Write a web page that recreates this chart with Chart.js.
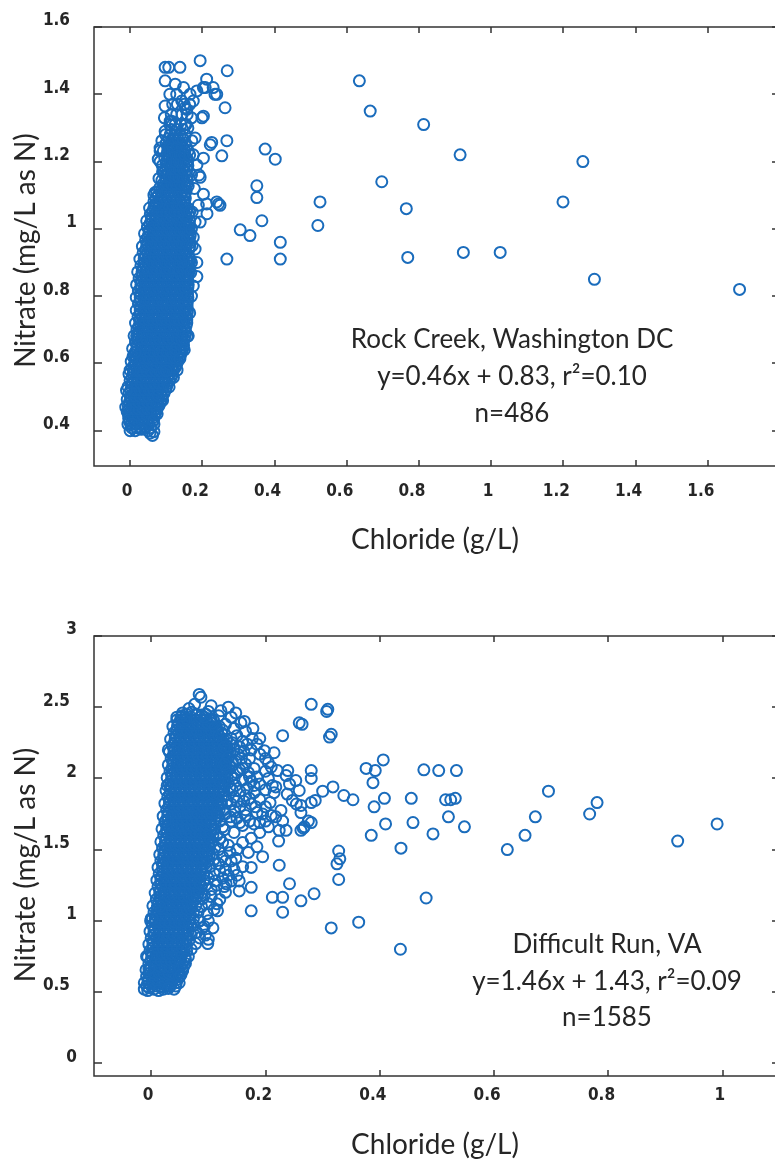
<!DOCTYPE html>
<html>
<head>
<meta charset="utf-8">
<title>Nitrate vs chloride</title>
<script src="https://cdn.jsdelivr.net/npm/chart.js@4.4.1/dist/chart.umd.min.js"></script>
<style>
  html, body { margin: 0; padding: 0; background: #fff; width: 775px; height: 1162px; overflow: hidden; }
  canvas { position: absolute; left: 0; }
  #rock { top: 0; }
  #difficult { top: 590px; }
</style>
</head>
<body>
<canvas id="rock" width="800" height="580"></canvas>
<canvas id="difficult" width="800" height="572"></canvas>
<script>
'use strict'

// ---- Rock Creek, Washington DC ----
const rockXTicks = [0, 0.2, 0.4, 0.6, 0.8, 1, 1.2, 1.4, 1.6]
const rockXLabels = ['0', '0.2', '0.4', '0.6', '0.8', '1', '1.2', '1.4', '1.6']
const rockYTicks = [0.4, 0.6, 0.8, 1, 1.2, 1.4, 1.6]
const rockYLabels = ['0.4', '0.6', '0.8', '1', '1.2', '1.4', '1.6']
const rockNote = ['Rock Creek, Washington DC', 'y=0.46x + 0.83, r\u00b2=0.10', 'n=486']

// dense band: [nitrate, [chloride, ...]]
const rockCore = [
  [0.400, [0.000, 0.014, 0.050]],
  [0.419, [-0.006, 0.002, 0.014, 0.027, 0.039, 0.052, 0.066]],
  [0.437, [-0.004, 0.010, 0.022, 0.035, 0.049, 0.061]],
  [0.456, [-0.008, 0.000, 0.012, 0.025, 0.037, 0.050, 0.063, 0.072]],
  [0.474, [-0.005, 0.007, 0.020, 0.033, 0.045, 0.058, 0.070, 0.080]],
  [0.493, [-0.008, 0.002, 0.014, 0.027, 0.039, 0.052, 0.064, 0.077, 0.087]],
  [0.511, [-0.003, 0.009, 0.021, 0.034, 0.046, 0.059, 0.071, 0.084, 0.094]],
  [0.530, [-0.006, 0.004, 0.017, 0.028, 0.041, 0.053, 0.066, 0.078, 0.091, 0.101]],
  [0.549, [0.000, 0.012, 0.024, 0.037, 0.049, 0.061, 0.074, 0.086, 0.098, 0.109]],
  [0.568, [-0.003, 0.009, 0.021, 0.033, 0.045, 0.058, 0.070, 0.082, 0.095, 0.107, 0.117]],
  [0.587, [0.006, 0.018, 0.030, 0.042, 0.054, 0.067, 0.079, 0.091, 0.103, 0.115, 0.125]],
  [0.606, [0.003, 0.015, 0.027, 0.039, 0.051, 0.063, 0.075, 0.087, 0.099, 0.112, 0.123, 0.132]],
  [0.625, [0.011, 0.023, 0.035, 0.047, 0.059, 0.072, 0.083, 0.095, 0.107, 0.119, 0.131, 0.140]],
  [0.644, [0.007, 0.019, 0.031, 0.043, 0.055, 0.068, 0.079, 0.091, 0.104, 0.115, 0.127, 0.139, 0.146]],
  [0.663, [0.015, 0.027, 0.040, 0.051, 0.063, 0.075, 0.088, 0.099, 0.111, 0.124, 0.135, 0.147]],
  [0.682, [0.011, 0.023, 0.035, 0.047, 0.060, 0.071, 0.083, 0.095, 0.108, 0.119, 0.131, 0.143, 0.152]],
  [0.701, [0.019, 0.031, 0.043, 0.055, 0.068, 0.079, 0.091, 0.103, 0.116, 0.127, 0.139, 0.152]],
  [0.720, [0.015, 0.027, 0.039, 0.051, 0.063, 0.075, 0.087, 0.100, 0.111, 0.123, 0.135, 0.148, 0.157]],
  [0.739, [0.022, 0.034, 0.046, 0.059, 0.070, 0.082, 0.095, 0.106, 0.118, 0.131, 0.142, 0.156]],
  [0.758, [0.017, 0.028, 0.040, 0.052, 0.064, 0.076, 0.088, 0.100, 0.112, 0.124, 0.136, 0.149, 0.159]],
  [0.777, [0.023, 0.035, 0.048, 0.059, 0.071, 0.084, 0.095, 0.107, 0.120, 0.131, 0.144, 0.158]],
  [0.796, [0.017, 0.028, 0.040, 0.052, 0.064, 0.076, 0.088, 0.100, 0.112, 0.125, 0.137, 0.150, 0.160]],
  [0.815, [0.023, 0.036, 0.047, 0.059, 0.072, 0.083, 0.095, 0.108, 0.119, 0.131, 0.144, 0.157]],
  [0.834, [0.018, 0.030, 0.042, 0.054, 0.066, 0.078, 0.090, 0.102, 0.114, 0.126, 0.139, 0.151, 0.161]],
  [0.853, [0.025, 0.037, 0.049, 0.062, 0.073, 0.085, 0.098, 0.109, 0.121, 0.134, 0.146, 0.158]],
  [0.872, [0.021, 0.033, 0.045, 0.057, 0.069, 0.081, 0.093, 0.105, 0.117, 0.129, 0.142, 0.154, 0.163]],
  [0.891, [0.030, 0.042, 0.054, 0.067, 0.078, 0.090, 0.103, 0.114, 0.126, 0.139, 0.150, 0.162]],
  [0.910, [0.027, 0.039, 0.051, 0.063, 0.075, 0.087, 0.099, 0.111, 0.123, 0.135, 0.147, 0.159, 0.166]],
  [0.929, [0.036, 0.048, 0.060, 0.073, 0.084, 0.096, 0.109, 0.120, 0.132, 0.145, 0.156]],
  [0.948, [0.034, 0.046, 0.058, 0.070, 0.082, 0.094, 0.106, 0.118, 0.130, 0.142, 0.154, 0.165]],
  [0.967, [0.043, 0.055, 0.067, 0.080, 0.091, 0.103, 0.116, 0.127, 0.139, 0.152, 0.163]],
  [0.986, [0.040, 0.052, 0.064, 0.076, 0.088, 0.100, 0.112, 0.124, 0.136, 0.148, 0.160, 0.167]],
  [1.005, [0.048, 0.061, 0.072, 0.084, 0.097, 0.108, 0.120, 0.133, 0.144, 0.156, 0.164]],
  [1.024, [0.046, 0.058, 0.070, 0.082, 0.094, 0.106, 0.118, 0.130, 0.142, 0.154, 0.164]],
  [1.043, [0.056, 0.068, 0.080, 0.093, 0.104, 0.116, 0.129, 0.140, 0.152, 0.161]],
  [1.062, [0.054, 0.066, 0.078, 0.090, 0.102, 0.114, 0.126, 0.138, 0.150, 0.159]],
  [1.081, [0.066, 0.078, 0.091, 0.102, 0.114, 0.127, 0.138, 0.150]],
  [1.100, [0.066, 0.078, 0.091, 0.103, 0.115, 0.127, 0.139, 0.151]],
  [1.122, [0.082, 0.094, 0.106, 0.118, 0.130, 0.142, 0.154]],
  [1.144, [0.088, 0.099, 0.111, 0.123, 0.135, 0.147, 0.158]],
  [1.166, [0.094, 0.107, 0.118, 0.131, 0.142, 0.155]],
  [1.188, [0.089, 0.101, 0.113, 0.125, 0.137, 0.149, 0.160]],
  [1.210, [0.096, 0.108, 0.121, 0.132, 0.145, 0.157]],
  [1.232, [0.092, 0.104, 0.116, 0.128, 0.140, 0.152, 0.161]],
  [1.255, [0.100, 0.113, 0.127, 0.139, 0.152]],
  [1.280, [0.098, 0.111, 0.125, 0.139, 0.153]],
  [1.310, [0.110, 0.125, 0.141, 0.155]],
  [1.340, [0.114, 0.129, 0.144, 0.158]],
  [1.370, [0.131, 0.150, 0.165]],
  // in-between levels
  [0.409, [0.004, 0.017, 0.030, 0.043, 0.057]],
  [0.428, [-0.002, 0.011, 0.024, 0.037, 0.050, 0.062]],
  [0.447, [-0.004, 0.009, 0.021, 0.034, 0.046, 0.059, 0.068]],
  [0.465, [-0.003, 0.010, 0.023, 0.036, 0.048, 0.061, 0.074]],
  [0.484, [-0.002, 0.011, 0.024, 0.036, 0.049, 0.061, 0.074, 0.084]],
  [0.502, [0.001, 0.014, 0.026, 0.039, 0.051, 0.064, 0.076, 0.088]],
  [0.521, [0.002, 0.015, 0.027, 0.040, 0.052, 0.065, 0.077, 0.089, 0.098]],
  [0.540, [0.005, 0.018, 0.030, 0.043, 0.055, 0.067, 0.080, 0.092, 0.104]],
  [0.559, [0.006, 0.018, 0.031, 0.043, 0.055, 0.067, 0.080, 0.092, 0.104, 0.114]],
  [0.578, [0.009, 0.021, 0.033, 0.046, 0.058, 0.070, 0.082, 0.094, 0.107, 0.119]],
  [0.597, [0.012, 0.024, 0.036, 0.048, 0.060, 0.072, 0.085, 0.097, 0.109, 0.121, 0.129]],
  [0.616, [0.015, 0.027, 0.039, 0.051, 0.063, 0.075, 0.087, 0.099, 0.111, 0.123, 0.135]],
  [0.635, [0.017, 0.029, 0.041, 0.053, 0.065, 0.077, 0.089, 0.101, 0.113, 0.125, 0.137, 0.143]],
  [0.654, [0.019, 0.031, 0.043, 0.055, 0.067, 0.079, 0.091, 0.104, 0.116, 0.128, 0.140, 0.148]],
  [0.673, [0.021, 0.033, 0.045, 0.057, 0.069, 0.081, 0.093, 0.106, 0.118, 0.130, 0.142, 0.150]],
  [0.692, [0.023, 0.035, 0.047, 0.059, 0.071, 0.083, 0.095, 0.107, 0.119, 0.131, 0.143, 0.154]],
  [0.711, [0.025, 0.037, 0.049, 0.061, 0.073, 0.085, 0.097, 0.109, 0.121, 0.133, 0.145, 0.155]],
  [0.730, [0.027, 0.039, 0.051, 0.063, 0.075, 0.087, 0.099, 0.111, 0.123, 0.135, 0.148, 0.157]],
  [0.749, [0.028, 0.040, 0.052, 0.064, 0.076, 0.088, 0.100, 0.112, 0.124, 0.136, 0.149, 0.158]],
  [0.768, [0.029, 0.041, 0.053, 0.065, 0.077, 0.089, 0.101, 0.113, 0.125, 0.137, 0.150, 0.158]],
  [0.787, [0.028, 0.040, 0.052, 0.065, 0.077, 0.089, 0.101, 0.113, 0.125, 0.137, 0.150, 0.159]],
  [0.806, [0.029, 0.041, 0.053, 0.065, 0.077, 0.089, 0.101, 0.113, 0.125, 0.138, 0.150, 0.159]],
  [0.825, [0.030, 0.042, 0.054, 0.066, 0.078, 0.090, 0.102, 0.114, 0.126, 0.138, 0.151, 0.160]],
  [0.844, [0.031, 0.043, 0.055, 0.067, 0.079, 0.091, 0.103, 0.115, 0.127, 0.139, 0.152, 0.160]],
  [0.863, [0.033, 0.045, 0.057, 0.069, 0.081, 0.093, 0.105, 0.117, 0.129, 0.141, 0.153, 0.161]],
  [0.882, [0.036, 0.048, 0.060, 0.072, 0.084, 0.096, 0.108, 0.120, 0.132, 0.144, 0.156, 0.163]],
  [0.901, [0.039, 0.051, 0.063, 0.075, 0.087, 0.099, 0.111, 0.123, 0.135, 0.147, 0.159, 0.165]],
  [0.920, [0.042, 0.054, 0.066, 0.078, 0.090, 0.102, 0.114, 0.126, 0.138, 0.150, 0.162]],
  [0.939, [0.044, 0.056, 0.068, 0.080, 0.092, 0.104, 0.116, 0.128, 0.140, 0.152, 0.163]],
  [0.958, [0.047, 0.059, 0.071, 0.083, 0.095, 0.107, 0.119, 0.131, 0.143, 0.155, 0.165]],
  [0.977, [0.050, 0.062, 0.074, 0.086, 0.098, 0.110, 0.122, 0.134, 0.146, 0.158, 0.166]],
  [0.996, [0.053, 0.065, 0.077, 0.089, 0.101, 0.113, 0.125, 0.137, 0.149, 0.160]],
  [1.015, [0.055, 0.067, 0.079, 0.091, 0.103, 0.115, 0.127, 0.139, 0.151, 0.162]],
  [1.034, [0.059, 0.071, 0.083, 0.095, 0.107, 0.119, 0.131, 0.143, 0.155]],
  [1.053, [0.063, 0.075, 0.087, 0.099, 0.111, 0.123, 0.135, 0.147, 0.157]],
  [1.072, [0.069, 0.081, 0.093, 0.105, 0.117, 0.129, 0.141, 0.152]],
  [1.091, [0.072, 0.084, 0.096, 0.108, 0.120, 0.132, 0.144, 0.153]],
  [1.111, [0.085, 0.097, 0.109, 0.121, 0.133, 0.145, 0.155]],
  [1.133, [0.091, 0.103, 0.115, 0.127, 0.139, 0.151, 0.158]],
  [1.155, [0.098, 0.110, 0.122, 0.134, 0.146, 0.158]],
  [1.177, [0.099, 0.111, 0.123, 0.135, 0.147, 0.158]],
  [1.199, [0.100, 0.112, 0.124, 0.136, 0.148, 0.159]],
  [1.221, [0.102, 0.114, 0.126, 0.138, 0.150]],
  [1.244, [0.104, 0.117, 0.130, 0.143, 0.156]],
  [1.268, [0.106, 0.119, 0.132, 0.146]],
  [1.295, [0.115, 0.130, 0.146]]
]

// scattered samples round the band and the high-chloride tail: [chloride, nitrate]
const rockSpread = [
  [0.097, 1.48], [0.107, 1.48], [0.138, 1.48], [0.194, 1.50], [0.269, 1.47], [0.097, 1.44],
  [0.212, 1.445], [0.230, 1.42], [0.203, 1.42], [0.240, 1.40], [0.129, 1.40], [0.166, 1.40],
  [0.185, 1.41], [0.208, 1.42], [0.235, 1.40], [0.097, 1.365], [0.263, 1.36], [0.203, 1.335],
  [0.152, 1.36], [0.111, 1.32], [0.097, 1.29], [0.083, 1.24], [0.083, 1.20], [0.226, 1.257],
  [0.222, 1.25], [0.268, 1.262], [0.254, 1.217], [0.203, 1.21], [0.175, 1.22], [0.191, 1.16],
  [0.074, 1.11], [0.203, 1.103], [0.240, 1.08], [0.249, 1.07], [0.189, 1.07], [0.213, 1.045],
  [0.194, 1.02], [0.175, 0.975], [0.212, 1.074], [0.245, 1.074], [0.194, 1.153], [0.161, 1.128],
  [0.171, 1.262], [0.152, 1.31], [0.157, 1.355], [0.143, 1.38], [0.115, 1.32], [0.199, 1.33],
  [0.083, 1.232], [0.078, 1.207], [0.088, 1.262], [0.069, 1.108], [0.074, 1.074],
  [0.160, 1.30], [0.170, 1.33], [0.148, 1.42], [0.125, 1.43], [0.110, 1.40], [0.118, 1.37],
  [0.175, 1.38], [0.170, 1.16], [0.178, 1.12], [0.185, 1.19], [0.165, 1.22], [0.180, 1.27],
  [0.095, 1.33], [0.090, 1.17], [0.080, 1.15], [0.172, 1.05], [0.180, 1.02], [0.170, 0.90],
  [0.175, 0.83], [0.158, 0.68], [0.150, 0.64], [0.130, 0.58], [0.108, 0.53], [0.090, 0.49],
  [0.075, 0.45], [0.065, 0.43], [-0.012, 0.47], [-0.010, 0.52], [0.000, 0.58], [0.008, 0.62],
  [0.018, 0.682], [0.014, 0.633], [0.125, 0.643], [0.120, 0.558], [0.078, 0.504], [0.005, 0.42],
  [0.055, 0.393], [0.062, 0.386], [0.031, 0.404], [0.066, 0.397],
  [0.161, 0.682], [0.138, 0.614], [0.100, 0.578], [0.170, 0.80],
  [0.168, 0.87], [0.172, 0.95], [0.170, 1.00], [0.165, 1.05], [0.165, 0.75],
  [0.185, 0.858], [0.185, 0.90], [0.180, 0.94], [0.268, 0.91],
  [0.374, 1.237], [0.402, 1.207], [0.351, 1.128], [0.351, 1.093], [0.365, 1.024],
  [0.305, 0.997], [0.332, 0.98], [0.416, 0.96], [0.416, 0.91], [0.526, 1.08], [0.520, 1.01],
  [0.635, 1.44], [0.665, 1.35], [0.697, 1.14], [0.813, 1.31], [0.914, 1.22], [0.765, 1.06],
  [0.769, 0.915], [0.923, 0.93], [1.025, 0.93], [1.199, 1.08], [1.254, 1.20], [1.286, 0.85],
  [1.688, 0.82]
]

// ---- Difficult Run, VA ----
const runXTicks = [0, 0.2, 0.4, 0.6, 0.8, 1]
const runXLabels = ['0', '0.2', '0.4', '0.6', '0.8', '1']
const runYTicks = [0, 0.5, 1, 1.5, 2, 2.5, 3]
const runYLabels = ['0', '0.5', '1', '1.5', '2', '2.5', '3']
const runNote = ['Difficult Run, VA', 'y=1.46x + 1.43, r\u00b2=0.09', 'n=1585']

const runCore = [
  [0.520, [-0.012, 0.005, 0.021, 0.040]],
  [0.565, [-0.012, -0.006, 0.002, 0.011, 0.019, 0.028, 0.036, 0.044, 0.049]],
  [0.610, [-0.008, 0.000, 0.009, 0.017, 0.026, 0.034, 0.042, 0.049]],
  [0.655, [-0.009, -0.002, 0.006, 0.015, 0.023, 0.032, 0.040, 0.048, 0.055]],
  [0.700, [-0.004, 0.004, 0.013, 0.021, 0.030, 0.038, 0.046, 0.054]],
  [0.745, [-0.006, 0.001, 0.010, 0.018, 0.027, 0.035, 0.044, 0.052, 0.059]],
  [0.790, [-0.002, 0.007, 0.015, 0.024, 0.032, 0.041, 0.050, 0.058]],
  [0.835, [-0.004, 0.003, 0.012, 0.020, 0.029, 0.037, 0.046, 0.055, 0.062]],
  [0.880, [0.000, 0.009, 0.017, 0.026, 0.034, 0.043, 0.052, 0.062]],
  [0.925, [-0.002, 0.005, 0.014, 0.022, 0.031, 0.039, 0.048, 0.057, 0.065]],
  [0.970, [0.002, 0.011, 0.019, 0.028, 0.036, 0.045, 0.054, 0.062, 0.070]],
  [1.015, [0.000, 0.007, 0.016, 0.024, 0.033, 0.041, 0.050, 0.059, 0.067, 0.074]],
  [1.060, [0.005, 0.013, 0.022, 0.030, 0.039, 0.047, 0.056, 0.064, 0.074]],
  [1.105, [0.003, 0.011, 0.019, 0.028, 0.036, 0.045, 0.053, 0.062, 0.070, 0.078]],
  [1.150, [0.009, 0.017, 0.026, 0.034, 0.043, 0.051, 0.060, 0.068, 0.078]],
  [1.195, [0.007, 0.015, 0.023, 0.032, 0.040, 0.049, 0.057, 0.066, 0.074, 0.083, 0.088]],
  [1.240, [0.012, 0.020, 0.029, 0.037, 0.046, 0.054, 0.063, 0.071, 0.080, 0.088]],
  [1.285, [0.010, 0.017, 0.025, 0.034, 0.042, 0.051, 0.059, 0.068, 0.076, 0.085, 0.092]],
  [1.330, [0.014, 0.022, 0.031, 0.039, 0.048, 0.056, 0.065, 0.073, 0.082, 0.092]],
  [1.375, [0.012, 0.020, 0.028, 0.037, 0.045, 0.054, 0.062, 0.071, 0.079, 0.088, 0.096]],
  [1.420, [0.017, 0.025, 0.034, 0.042, 0.051, 0.059, 0.068, 0.076, 0.085, 0.093, 0.099]],
  [1.465, [0.015, 0.022, 0.031, 0.039, 0.048, 0.056, 0.065, 0.073, 0.082, 0.090, 0.098, 0.102]],
  [1.510, [0.020, 0.028, 0.037, 0.045, 0.054, 0.062, 0.071, 0.079, 0.088, 0.096, 0.102]],
  [1.555, [0.017, 0.025, 0.034, 0.042, 0.051, 0.059, 0.068, 0.076, 0.085, 0.093, 0.102, 0.107]],
  [1.600, [0.022, 0.031, 0.039, 0.048, 0.056, 0.065, 0.073, 0.082, 0.090, 0.099, 0.108]],
  [1.645, [0.019, 0.027, 0.036, 0.044, 0.053, 0.061, 0.070, 0.078, 0.087, 0.095, 0.104, 0.111]],
  [1.690, [0.024, 0.033, 0.041, 0.050, 0.058, 0.067, 0.075, 0.084, 0.092, 0.101, 0.112]],
  [1.735, [0.021, 0.029, 0.038, 0.046, 0.055, 0.063, 0.072, 0.080, 0.089, 0.097, 0.106, 0.114, 0.118]],
  [1.780, [0.027, 0.035, 0.044, 0.052, 0.061, 0.069, 0.078, 0.086, 0.095, 0.103, 0.112, 0.119]],
  [1.825, [0.024, 0.032, 0.040, 0.049, 0.057, 0.066, 0.074, 0.083, 0.091, 0.100, 0.108, 0.117, 0.123]],
  [1.870, [0.029, 0.037, 0.046, 0.054, 0.063, 0.071, 0.080, 0.088, 0.097, 0.105, 0.114, 0.123]],
  [1.915, [0.026, 0.034, 0.042, 0.051, 0.059, 0.068, 0.076, 0.085, 0.093, 0.102, 0.110, 0.119, 0.127]],
  [1.960, [0.031, 0.039, 0.048, 0.056, 0.065, 0.073, 0.082, 0.090, 0.099, 0.107, 0.116, 0.124, 0.129]],
  [2.005, [0.028, 0.036, 0.044, 0.053, 0.061, 0.070, 0.078, 0.087, 0.095, 0.104, 0.112, 0.121, 0.129, 0.133]],
  [2.050, [0.033, 0.041, 0.050, 0.058, 0.067, 0.075, 0.084, 0.092, 0.101, 0.109, 0.118, 0.126, 0.132]],
  [2.095, [0.030, 0.038, 0.046, 0.055, 0.063, 0.072, 0.080, 0.089, 0.097, 0.106, 0.114, 0.123, 0.131, 0.136]],
  [2.140, [0.035, 0.043, 0.052, 0.060, 0.069, 0.077, 0.086, 0.094, 0.103, 0.111, 0.120, 0.128, 0.135]],
  [2.185, [0.032, 0.040, 0.048, 0.057, 0.065, 0.074, 0.082, 0.091, 0.099, 0.108, 0.116, 0.125, 0.133, 0.138]],
  [2.230, [0.037, 0.045, 0.054, 0.062, 0.071, 0.079, 0.088, 0.096, 0.105, 0.113, 0.122, 0.132]],
  [2.275, [0.034, 0.042, 0.050, 0.059, 0.067, 0.076, 0.084, 0.093, 0.101, 0.110, 0.118, 0.126, 0.131]],
  [2.320, [0.040, 0.048, 0.057, 0.065, 0.074, 0.082, 0.091, 0.099, 0.108, 0.116, 0.123]],
  [2.365, [0.038, 0.046, 0.054, 0.063, 0.071, 0.080, 0.088, 0.097, 0.105, 0.114, 0.119]],
  [2.410, [0.045, 0.053, 0.062, 0.070, 0.079, 0.087, 0.096, 0.104, 0.109]],
  [2.450, [0.062, 0.079, 0.096]],
  // in-between levels
  [0.542, [-0.008, 0.000, 0.009, 0.017, 0.026, 0.034, 0.043]],
  [0.588, [-0.005, 0.003, 0.012, 0.020, 0.029, 0.037, 0.046]],
  [0.632, [-0.003, 0.005, 0.014, 0.022, 0.031, 0.039, 0.048]],
  [0.678, [-0.001, 0.007, 0.016, 0.024, 0.033, 0.041, 0.050]],
  [0.722, [0.000, 0.008, 0.017, 0.025, 0.034, 0.042, 0.051]],
  [0.768, [0.002, 0.010, 0.019, 0.027, 0.036, 0.044, 0.053]],
  [0.812, [0.003, 0.011, 0.020, 0.028, 0.037, 0.045, 0.054]],
  [0.858, [0.004, 0.012, 0.021, 0.029, 0.038, 0.046, 0.055]],
  [0.902, [0.005, 0.013, 0.022, 0.030, 0.039, 0.047, 0.056, 0.062]],
  [0.948, [0.006, 0.014, 0.023, 0.031, 0.040, 0.048, 0.057, 0.064]],
  [0.992, [0.007, 0.015, 0.024, 0.032, 0.041, 0.049, 0.058, 0.066]],
  [1.038, [0.009, 0.017, 0.026, 0.034, 0.043, 0.051, 0.060, 0.068]],
  [1.082, [0.011, 0.019, 0.028, 0.036, 0.045, 0.053, 0.062, 0.070]],
  [1.128, [0.013, 0.021, 0.030, 0.038, 0.047, 0.055, 0.064, 0.072]],
  [1.172, [0.015, 0.023, 0.032, 0.040, 0.049, 0.057, 0.066, 0.074, 0.080]],
  [1.218, [0.016, 0.024, 0.033, 0.041, 0.050, 0.058, 0.067, 0.075, 0.083]],
  [1.262, [0.017, 0.025, 0.034, 0.042, 0.051, 0.059, 0.068, 0.076, 0.085]],
  [1.308, [0.018, 0.026, 0.035, 0.043, 0.052, 0.060, 0.069, 0.077, 0.086]],
  [1.352, [0.020, 0.028, 0.037, 0.045, 0.054, 0.062, 0.071, 0.079, 0.088]],
  [1.398, [0.021, 0.029, 0.038, 0.046, 0.055, 0.063, 0.072, 0.080, 0.089, 0.094]],
  [1.442, [0.022, 0.030, 0.039, 0.047, 0.056, 0.064, 0.073, 0.081, 0.090, 0.097]],
  [1.488, [0.024, 0.032, 0.041, 0.049, 0.058, 0.066, 0.075, 0.083, 0.092, 0.099]],
  [1.532, [0.025, 0.033, 0.042, 0.050, 0.059, 0.067, 0.076, 0.084, 0.093, 0.101]],
  [1.578, [0.026, 0.034, 0.043, 0.051, 0.060, 0.068, 0.077, 0.085, 0.094, 0.103]],
  [1.622, [0.027, 0.035, 0.044, 0.052, 0.061, 0.069, 0.078, 0.086, 0.095, 0.104]],
  [1.668, [0.028, 0.036, 0.045, 0.053, 0.062, 0.070, 0.079, 0.087, 0.096, 0.105]],
  [1.712, [0.029, 0.037, 0.046, 0.054, 0.063, 0.071, 0.080, 0.088, 0.097, 0.105, 0.112]],
  [1.758, [0.030, 0.038, 0.047, 0.055, 0.064, 0.072, 0.081, 0.089, 0.098, 0.106, 0.115]],
  [1.802, [0.031, 0.039, 0.048, 0.056, 0.065, 0.073, 0.082, 0.090, 0.099, 0.107, 0.116]],
  [1.848, [0.032, 0.040, 0.049, 0.057, 0.066, 0.074, 0.083, 0.091, 0.100, 0.108, 0.117]],
  [1.892, [0.033, 0.041, 0.050, 0.058, 0.067, 0.075, 0.084, 0.092, 0.101, 0.109, 0.118]],
  [1.938, [0.034, 0.042, 0.051, 0.059, 0.068, 0.076, 0.085, 0.093, 0.102, 0.110, 0.119, 0.125]],
  [1.982, [0.035, 0.043, 0.052, 0.060, 0.069, 0.077, 0.086, 0.094, 0.103, 0.111, 0.120, 0.128]],
  [2.028, [0.036, 0.044, 0.053, 0.061, 0.070, 0.078, 0.087, 0.095, 0.104, 0.112, 0.121, 0.129]],
  [2.072, [0.037, 0.045, 0.054, 0.062, 0.071, 0.079, 0.088, 0.096, 0.105, 0.113, 0.122, 0.130]],
  [2.118, [0.038, 0.046, 0.055, 0.063, 0.072, 0.080, 0.089, 0.097, 0.106, 0.114, 0.123, 0.131]],
  [2.162, [0.039, 0.047, 0.056, 0.064, 0.073, 0.081, 0.090, 0.098, 0.107, 0.115, 0.124, 0.132]],
  [2.208, [0.040, 0.048, 0.057, 0.065, 0.074, 0.082, 0.091, 0.099, 0.108, 0.116, 0.125, 0.132]],
  [2.252, [0.041, 0.049, 0.058, 0.066, 0.075, 0.083, 0.092, 0.100, 0.109, 0.117, 0.126]],
  [2.298, [0.043, 0.051, 0.060, 0.068, 0.077, 0.085, 0.094, 0.102, 0.111, 0.119]],
  [2.342, [0.045, 0.053, 0.062, 0.070, 0.079, 0.087, 0.096, 0.104, 0.113]],
  [2.388, [0.048, 0.056, 0.065, 0.073, 0.082, 0.090, 0.099, 0.107]],
  [2.430, [0.052, 0.069, 0.086]]
]

const runSpread = [
  // upper fringe and right shoulder of the band
  [0.084, 2.59], [0.087, 2.57], [0.105, 2.51], [0.122, 2.475], [0.061, 2.42], [0.157, 2.39],
  [0.140, 2.43], [0.130, 2.38], [0.118, 2.44], [0.145, 2.35], [0.165, 2.33], [0.177, 2.28],
  [0.150, 2.30], [0.160, 2.26], [0.185, 2.24], [0.198, 2.195], [0.200, 2.14], [0.172, 2.14],
  [0.190, 2.17], [0.175, 2.20], [0.155, 2.22], [0.142, 2.25], [0.138, 2.18], [0.148, 2.12],
  [0.165, 2.10], [0.180, 2.07], [0.200, 2.05], [0.210, 2.08], [0.185, 2.01], [0.170, 2.04],
  [0.155, 2.06], [0.140, 2.08], [0.205, 2.00], [0.190, 1.96], [0.175, 1.98], [0.160, 1.99],
  [0.148, 1.95], [0.135, 1.97], [0.200, 1.92], [0.215, 1.90], [0.180, 1.90], [0.165, 1.88],
  [0.145, 1.87], [0.190, 1.85], [0.200, 1.80], [0.175, 1.82], [0.155, 1.80], [0.140, 1.82],
  [0.185, 1.76], [0.165, 1.74], [0.150, 1.72], [0.200, 1.70], [0.180, 1.68], [0.160, 1.67],
  [0.140, 1.70], [0.130, 1.75], [0.128, 1.64], [0.145, 1.62], [0.190, 1.62], [0.175, 1.58],
  [0.160, 1.55], [0.185, 1.52], [0.195, 1.45], [0.170, 1.48], [0.150, 1.50], [0.135, 1.53],
  [0.120, 1.58], [0.125, 1.45], [0.140, 1.42], [0.160, 1.38], [0.130, 1.36], [0.118, 1.40],
  [0.150, 1.32], [0.125, 1.30], [0.110, 1.33], [0.140, 1.28], [0.115, 1.25], [0.105, 1.22],
  [0.130, 1.20], [0.120, 1.15], [0.100, 1.12], [0.110, 1.08], [0.098, 1.05], [0.085, 1.00],
  [0.090, 0.95], [0.080, 0.92], [0.095, 0.90], [0.078, 0.84], [0.099, 0.84], [0.070, 0.80],
  [0.065, 0.75], [0.060, 0.70], [0.055, 0.65], [0.049, 0.605], [0.032, 0.547], [0.017, 0.535],
  [-0.006, 0.51], [-0.004, 0.664], [-0.001, 1.00], [0.002, 1.015], [0.084, 1.00], [0.090, 1.155],
  [0.116, 1.07], [0.131, 1.26], [0.154, 1.28], [0.154, 1.21], [0.175, 1.375], [0.175, 1.235],
  [0.175, 1.07], [0.140, 2.28], [0.145, 2.20], [0.142, 2.12], [0.140, 2.02], [0.138, 1.93],
  [0.133, 1.84], [0.128, 1.78], [0.120, 1.70], [0.125, 1.66], [0.115, 1.60], [0.112, 1.52],
  [0.108, 1.47], [0.103, 1.38], [0.100, 1.30], [0.095, 1.25], [0.093, 1.18], [0.088, 1.10],
  [0.082, 1.06], [0.075, 0.97], [0.070, 0.90], [0.066, 0.86], [0.062, 0.79], [0.060, 0.73],
  [0.057, 0.68], [0.052, 0.62], [0.015, 1.10], [0.005, 0.90], [-0.008, 0.75], [0.020, 1.40],
  [0.025, 1.70], [0.028, 1.95], [0.030, 2.20], [0.045, 2.43], [0.055, 2.46],
  [0.105, 2.42], [0.112, 2.36], [0.118, 2.30], [0.125, 2.34], [0.132, 2.27], [0.128, 2.22],
  [0.135, 2.15], [0.128, 2.10], [0.133, 2.05], [0.145, 2.00], [0.150, 2.04], [0.158, 2.14],
  [0.162, 2.19], [0.168, 2.24], [0.152, 2.17], [0.160, 2.07], [0.172, 2.01], [0.180, 1.95],
  [0.168, 1.93], [0.155, 1.91], [0.142, 1.92], [0.130, 1.88], [0.150, 1.84], [0.162, 1.84],
  [0.172, 1.86], [0.183, 1.80], [0.165, 1.78], [0.145, 1.77], [0.138, 1.73], [0.155, 1.69],
  [0.172, 1.70], [0.190, 1.69], [0.205, 1.66], [0.210, 1.74], [0.195, 1.75], [0.208, 1.83],
  [0.212, 1.95], [0.205, 2.11], [0.215, 2.18], [0.190, 2.28], [0.178, 2.35], [0.163, 2.40],
  [0.148, 2.46], [0.135, 2.50], [0.125, 1.55], [0.138, 1.48], [0.148, 1.44], [0.118, 1.50],
  [0.130, 1.42], [0.110, 1.43], [0.120, 1.35], [0.135, 1.32], [0.145, 1.36], [0.128, 1.24],
  [0.112, 1.28], [0.105, 1.17], [0.115, 1.12], [0.100, 1.00], [0.093, 0.96], [0.085, 0.88],
  [0.108, 0.95], [0.100, 0.87],
  [0.054, 2.44], [0.071, 2.465], [0.088, 2.445], [0.100, 2.47], [0.058, 2.405], [0.093, 2.43],
  [0.066, 2.49], [0.076, 2.52], [-0.004, 0.53], [0.013, 0.51], [0.030, 0.525],
  // middle chloride range
  [0.230, 2.30], [0.259, 2.39], [0.280, 2.52], [0.307, 2.47], [0.309, 2.485], [0.264, 2.38],
  [0.315, 2.31], [0.312, 2.29], [0.221, 2.055], [0.239, 2.055], [0.236, 2.02], [0.242, 1.96],
  [0.218, 1.94], [0.253, 1.985], [0.259, 1.915], [0.247, 1.845], [0.254, 1.82], [0.238, 1.89],
  [0.227, 1.775], [0.218, 1.73], [0.230, 1.70], [0.224, 1.635], [0.236, 1.635], [0.262, 1.635],
  [0.262, 1.76], [0.268, 1.66], [0.280, 1.69], [0.223, 1.56], [0.224, 1.39], [0.242, 1.26],
  [0.212, 1.165], [0.230, 1.165], [0.230, 1.06], [0.262, 1.14], [0.285, 1.19], [0.280, 2.055],
  [0.280, 2.00], [0.280, 1.83], [0.300, 1.91], [0.318, 1.94], [0.337, 1.88], [0.353, 1.85],
  [0.287, 1.845], [0.262, 1.81], [0.275, 1.70], [0.266, 1.65], [0.376, 2.07], [0.392, 2.055],
  [0.388, 1.97], [0.390, 1.80], [0.385, 1.60], [0.328, 1.49], [0.330, 1.435], [0.325, 1.40],
  [0.328, 1.29], [0.315, 0.95], [0.363, 0.99],
  // high chloride tail
  [0.406, 2.13], [0.477, 2.06], [0.503, 2.055], [0.534, 2.055], [0.408, 1.86], [0.455, 1.86],
  [0.515, 1.85], [0.532, 1.86], [0.524, 1.85], [0.410, 1.68], [0.458, 1.69], [0.520, 1.73],
  [0.548, 1.66], [0.493, 1.61], [0.437, 1.51], [0.695, 1.91], [0.780, 1.83], [0.767, 1.75],
  [0.672, 1.73], [0.654, 1.60], [0.623, 1.50], [0.921, 1.56], [0.990, 1.68], [0.481, 1.16],
  [0.436, 0.80]
]

const fromRows = rows => rows.flatMap(([y, xs]) => xs.map(x => ({ x, y })))
const fromPairs = list => list.map(([x, y]) => ({ x, y }))

const ink = '#262626'
const ringColor = 'rgb(26, 108, 188)'
const tickFont = 'bold 17px "Liberation Sans Narrow", "DejaVu Sans Condensed", "Arial Narrow", sans-serif'
const titleFont = '28px Lato, "Open Sans", sans-serif'
const noteFont = '26px Lato, "Open Sans", sans-serif'

// box with inward ticks on all four sides, tick labels, axis titles and the fit note
function panelDecor (cfg) {
  return {
    id: 'panelDecor',
    afterDraw (chart) {
      const { ctx, chartArea: a } = chart
      const xs = chart.scales.x
      const ys = chart.scales.y
      ctx.save()
      ctx.strokeStyle = '#333'
      ctx.lineWidth = 1.5
      ctx.strokeRect(a.left, a.top, a.right - a.left, a.bottom - a.top)
      ctx.beginPath()
      cfg.xTicks.forEach(v => {
        const px = Math.round(xs.getPixelForValue(v))
        ctx.moveTo(px, a.bottom); ctx.lineTo(px, a.bottom - 6)
        ctx.moveTo(px, a.top); ctx.lineTo(px, a.top + 6)
      })
      cfg.yTicks.forEach(v => {
        const py = Math.round(ys.getPixelForValue(v))
        ctx.moveTo(a.left, py); ctx.lineTo(a.left + 8, py)
        ctx.moveTo(a.right, py); ctx.lineTo(a.right - 8, py)
      })
      ctx.stroke()

      ctx.fillStyle = ink
      ctx.font = tickFont
      ctx.textBaseline = 'middle'
      ctx.textAlign = 'center'
      cfg.xTicks.forEach((v, i) => {
        const label = cfg.xLabels[i]
        const shift = label.includes('.') ? -7 : -3
        ctx.fillText(label, xs.getPixelForValue(v) + shift, a.bottom + cfg.xLabelGap)
      })
      ctx.textAlign = 'right'
      cfg.yTicks.forEach((v, i) => {
        const label = cfg.yLabels[i]
        const right = a.left - (label.includes('.') ? 24 : 17)
        ctx.fillText(label, right, ys.getPixelForValue(v) - 6)
      })

      ctx.font = titleFont
      ctx.textAlign = 'center'
      ctx.fillText('Chloride (g/L)', (a.left + a.right) / 2 - 2, a.bottom + cfg.xTitleGap)
      ctx.save()
      ctx.translate(26, (a.top + a.bottom) / 2 + cfg.yTitleShift)
      ctx.rotate(-Math.PI / 2)
      ctx.fillText('Nitrate (mg/L as N)', 0, 0)
      ctx.restore()

      ctx.font = noteFont
      cfg.note.forEach((line, i) => {
        ctx.fillText(line, cfg.noteX, cfg.noteY + i * cfg.noteGap)
      })
      ctx.restore()
    }
  }
}

function scatterPanel (id, points, cfg) {
  return new Chart(document.getElementById(id), {
    type: 'scatter',
    data: {
      datasets: [{
        data: points,
        pointStyle: 'circle',
        pointRadius: 5.5,
        borderWidth: 2,
        borderColor: ringColor,
        backgroundColor: 'rgba(0,0,0,0)'
      }]
    },
    options: {
      responsive: false,
      animation: false,
      events: [],
      layout: { padding: cfg.padding, autoPadding: false },
      scales: {
        x: { type: 'linear', display: false, min: cfg.xMin, max: cfg.xMax },
        y: { type: 'linear', display: false, min: cfg.yMin, max: cfg.yMax }
      },
      plugins: { legend: { display: false }, tooltip: { enabled: false } }
    },
    plugins: [panelDecor(cfg)]
  })
}

scatterPanel('rock', fromRows(rockCore).concat(fromPairs(rockSpread)), {
  padding: { left: 94, right: 20, top: 27, bottom: 114 },
  xMin: -0.1, xMax: 1.8, yMin: 0.295, yMax: 1.6,
  xTicks: rockXTicks, xLabels: rockXLabels, yTicks: rockYTicks, yLabels: rockYLabels,
  xLabelGap: 26, xTitleGap: 74, yTitleShift: 4,
  note: rockNote, noteX: 512, noteY: 340, noteGap: 37
})

scatterPanel('difficult', fromRows(runCore).concat(fromPairs(runSpread)), {
  padding: { left: 94, right: 20, top: 46, bottom: 86 },
  xMin: -0.1, xMax: 1.1, yMin: -0.09, yMax: 3,
  xTicks: runXTicks, xLabels: runXLabels, yTicks: runYTicks, yLabels: runYLabels,
  xLabelGap: 20, xTitleGap: 69, yTitleShift: 9,
  note: runNote, noteX: 607, noteY: 355, noteGap: 36.5
})
</script>
</body>
</html>
